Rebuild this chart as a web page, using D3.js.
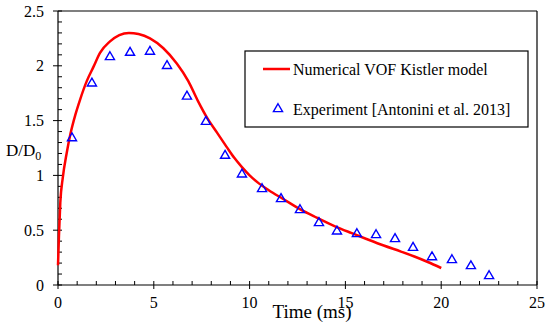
<!DOCTYPE html>
<html><head><meta charset="utf-8">
<script src="https://cdn.jsdelivr.net/npm/d3@7"></script>
<style>body{margin:0;background:#fff}svg{display:block}</style>
</head><body><svg id="c" width="550" height="331"></svg>
<script>
const simTime = [0,0.05,0.12,0.25,0.45,0.65,0.9,1.15,1.5,1.85,2.2,2.7,3.2,3.7,4.2,4.8,5.5,6.2,6.8,7.3,7.8,8.3,8.8,9.2,9.6,10,10.5,11,11.75,12.6,13.5,14.4,15.3,16.1,17,17.9,18.6,19.3,20];
const simD    = [0.18,0.45,0.75,0.98,1.2,1.38,1.55,1.69,1.86,1.99,2.12,2.22,2.28,2.30,2.29,2.25,2.16,2.02,1.86,1.68,1.52,1.39,1.26,1.16,1.075,1.0,0.925,0.865,0.785,0.695,0.615,0.54,0.475,0.42,0.36,0.305,0.26,0.21,0.155];
const expTime = [0.73,1.77,2.71,3.76,4.80,5.69,6.73,7.72,8.72,9.6,10.65,11.64,12.63,13.62,14.56,15.6,16.6,17.59,18.53,19.52,20.56,21.55,22.5];
const expD    = [1.34,1.84,2.08,2.12,2.13,2.00,1.72,1.49,1.18,1.01,0.876,0.785,0.684,0.566,0.49,0.465,0.456,0.42,0.34,0.255,0.228,0.173,0.082];
const xTicks = [0,5,10,15,20,25];
const yTicks = [0,0.5,1,1.5,2,2.5];
const seriesNames = ["Numerical VOF Kistler model","Experiment [Antonini et al. 2013]"];

const FONT = "Liberation Serif";
const svg = d3.select("#c");
const L=58,R=537,T=11,B=285;
const x = d3.scaleLinear().domain([0,25]).range([L,R]);
const y = d3.scaleLinear().domain([0,2.5]).range([B,T]);

// frame top/right
svg.append("line").attr("x1",L).attr("x2",R).attr("y1",T).attr("y2",T).attr("stroke","#000").attr("stroke-width",1.2);
svg.append("line").attr("x1",R).attr("x2",R).attr("y1",T).attr("y2",B).attr("stroke","#000").attr("stroke-width",1.2);

// x axis
const gx = svg.append("g");
gx.append("line").attr("x1",L).attr("x2",R).attr("y1",B).attr("y2",B).attr("stroke","#000").attr("stroke-width",1.2);
d3.range(0,26,1).forEach(v=>{
  const major = v%5===0;
  gx.append("line").attr("x1",x(v)).attr("x2",x(v)).attr("y1",major?B+4:B).attr("y2",B-4).attr("stroke","#000").attr("stroke-width",1);
});
gx.selectAll("text.xt").data(xTicks).join("text").attr("class","xt").style("font-family",FONT)
  .attr("x",d=>x(d)).attr("y",308).attr("text-anchor","middle").attr("font-size",16).text(d=>d);
svg.append("text").style("font-family",FONT).attr("x",312).attr("y",318).attr("text-anchor","middle").attr("font-size",19).text("Time (ms)");

// y axis
const gy = svg.append("g");
gy.append("line").attr("x1",L).attr("x2",L).attr("y1",T).attr("y2",B).attr("stroke","#000").attr("stroke-width",1.2);
d3.range(0,26,1).forEach(i=>{
  const v=i/10, major = i%5===0;
  gy.append("line").attr("x1",major?L-5:L).attr("x2",L+4).attr("y1",y(v)).attr("y2",y(v)).attr("stroke","#000").attr("stroke-width",1);
});
gy.selectAll("text.yt").data(yTicks).join("text").attr("class","yt").style("font-family",FONT)
  .attr("x",44).attr("y",d=>y(d)+5.5).attr("text-anchor","end").attr("font-size",16).text(d=>d);
const yl = svg.append("text").style("font-family",FONT).attr("x",6).attr("y",156).attr("font-size",17);
yl.append("tspan").text("D/D");
yl.append("tspan").attr("font-size",12).attr("dy",4).text("0");

// line
const line = d3.line().x((d,i)=>x(simTime[i])).y(d=>y(d)).curve(d3.curveMonotoneX);
svg.append("path").attr("d",line(simD)).attr("fill","none").attr("stroke","#ff0000").attr("stroke-width",2.5);

// points
const tri = d3.symbol().type(d3.symbolTriangle).size(36);
svg.selectAll("path.pt").data(expD).join("path").attr("class","pt")
  .attr("transform",(d,i)=>`translate(${x(expTime[i])},${y(d)})`)
  .attr("d",tri).attr("fill","none").attr("stroke","#0000ff").attr("stroke-width",1.4);

// legend
const lg = svg.append("g");
lg.append("rect").attr("x",245).attr("y",51).attr("width",283).attr("height",76).attr("fill","#fff").attr("stroke","#000").attr("stroke-width",1.2);
lg.append("line").attr("x1",263).attr("x2",290).attr("y1",69).attr("y2",69).attr("stroke","#ff0000").attr("stroke-width",2.5);
lg.append("text").style("font-family",FONT).attr("x",293).attr("y",74.5).attr("font-size",16).text(seriesNames[0]);
lg.append("path").attr("transform","translate(278,109)").attr("d",tri).attr("fill","none").attr("stroke","#0000ff").attr("stroke-width",1.4);
lg.append("text").style("font-family",FONT).attr("x",293).attr("y",114.5).attr("font-size",16).text(seriesNames[1]);
</script></body></html>
